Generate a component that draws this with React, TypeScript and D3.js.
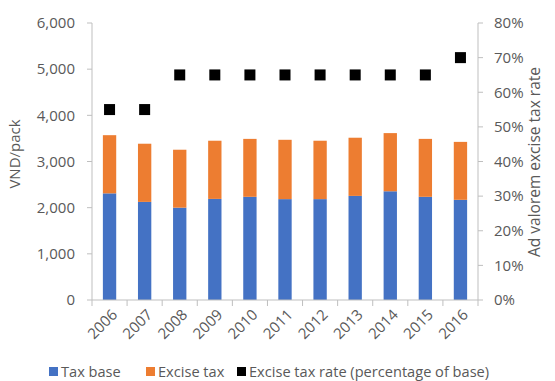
import React from "react";
import * as d3 from "d3";

const years = ["2006", "2007", "2008", "2009", "2010", "2011", "2012", "2013", "2014", "2015", "2016"];
const taxBase = [2310, 2125, 2000, 2190, 2235, 2185, 2185, 2255, 2355, 2235, 2170];
const exciseTax = [1260, 1260, 1255, 1260, 1255, 1285, 1265, 1260, 1260, 1255, 1255];
const exciseRate = [0.55, 0.55, 0.65, 0.65, 0.65, 0.65, 0.65, 0.65, 0.65, 0.65, 0.7];
const leftTicks = [0, 1000, 2000, 3000, 4000, 5000, 6000];
const rightTicks = [0, 0.1, 0.2, 0.3, 0.4, 0.5, 0.6, 0.7, 0.8];

const W = 555;
const H = 381;
const m = { left: 92, right: 77, top: 23, bottom: 81 };
const FONT = "'Open Sans', sans-serif";
const TEXT = "#595959";
const AXIS = "#bfbfbf";

export default function App() {
  const x = d3.scaleBand<string>().domain(years).range([m.left, W - m.right]).paddingInner(0.62).paddingOuter(0.31);
  const step = x.step();
  const catX = d3.scaleBand<string>().domain(years).range([m.left, W - m.right]);
  const y = d3.scaleLinear().domain([0, 6000]).range([H - m.bottom, m.top]);
  const yr = d3.scaleLinear().domain([0, 0.8]).range([H - m.bottom, m.top]);
  const fmt = d3.format(",");
  const pct = d3.format(".0%");
  const x0 = m.left;
  const x1 = W - m.right;
  const yBase = H - m.bottom;
  const boundaries = d3.range(years.length + 1).map((i) => m.left + i * catX.step());

  const legend = [
    { label: "Tax base", color: "#4472C4", x: 49 },
    { label: "Excise tax", color: "#ED7D31", x: 146 },
    { label: "Excise tax rate (percentage of base)", color: "#000000", x: 237 },
  ];

  return (
    <svg width={W} height={H} style={{ position: "absolute", left: 0, top: 0, background: "#fff" }} fontFamily={FONT}>
      {/* left axis */}
      <line x1={x0} x2={x0} y1={m.top} y2={yBase} stroke={AXIS} />
      {leftTicks.map((t) => (
        <g key={t}>
          <line x1={x0 - 5} x2={x0} y1={y(t)} y2={y(t)} stroke={AXIS} />
          <text x={x0 - 17} y={y(t)} dy="0.35em" textAnchor="end" fontSize={15} fill={TEXT}>
            {fmt(t)}
          </text>
        </g>
      ))}
      {/* right axis */}
      <line x1={x1} x2={x1} y1={m.top} y2={yBase} stroke={AXIS} />
      {rightTicks.map((t) => (
        <g key={t}>
          <line x1={x1} x2={x1 + 5} y1={yr(t)} y2={yr(t)} stroke={AXIS} />
          <text x={x1 + 16} y={yr(t)} dy="0.35em" textAnchor="start" fontSize={15} fill={TEXT}>
            {pct(t)}
          </text>
        </g>
      ))}
      {/* bars */}
      {years.map((yv, i) => (
        <g key={yv}>
          <rect x={x(yv)} width={x.bandwidth()} y={y(taxBase[i])} height={y(0) - y(taxBase[i])} fill="#4472C4" />
          <rect
            x={x(yv)}
            width={x.bandwidth()}
            y={y(taxBase[i] + exciseTax[i])}
            height={y(taxBase[i]) - y(taxBase[i] + exciseTax[i])}
            fill="#ED7D31"
          />
        </g>
      ))}
      {/* bottom axis */}
      <line x1={x0} x2={x1} y1={yBase} y2={yBase} stroke={AXIS} />
      {boundaries.map((b, i) => (
        <line key={i} x1={b} x2={b} y1={yBase} y2={yBase + 6} stroke={AXIS} />
      ))}
      {years.map((yv) => {
        const cx = (catX(yv) as number) + step / 2 + 5;
        const cy = yBase + 12;
        return (
          <text
            key={yv}
            transform={`translate(${cx},${cy}) rotate(-45)`}
            textAnchor="end"
            dy="0.35em"
            fontSize={15}
            fill={TEXT}
          >
            {yv}
          </text>
        );
      })}
      {/* rate markers */}
      {years.map((yv, i) => {
        const cx = (catX(yv) as number) + step / 2;
        const s = 11;
        return <rect key={yv} x={cx - s / 2} y={yr(exciseRate[i]) - s / 2} width={s} height={s} fill="#000" />;
      })}
      {/* axis titles */}
      <text transform={`translate(15,154) rotate(-90)`} textAnchor="middle" dy="0.35em" fontSize={15} fill={TEXT}>
        VND/pack
      </text>
      <text transform={`translate(535,162) rotate(-90)`} textAnchor="middle" dy="0.35em" fontSize={15.5} fill={TEXT}>
        Ad valorem excise tax rate
      </text>
      {/* legend */}
      {legend.map((l) => (
        <g key={l.label}>
          <rect x={l.x} y={367} width={9} height={9} fill={l.color} />
          <text x={l.x + 12} y={371.5} dy="0.35em" fontSize={14.6} fill={TEXT}>
            {l.label}
          </text>
        </g>
      ))}
    </svg>
  );
}
